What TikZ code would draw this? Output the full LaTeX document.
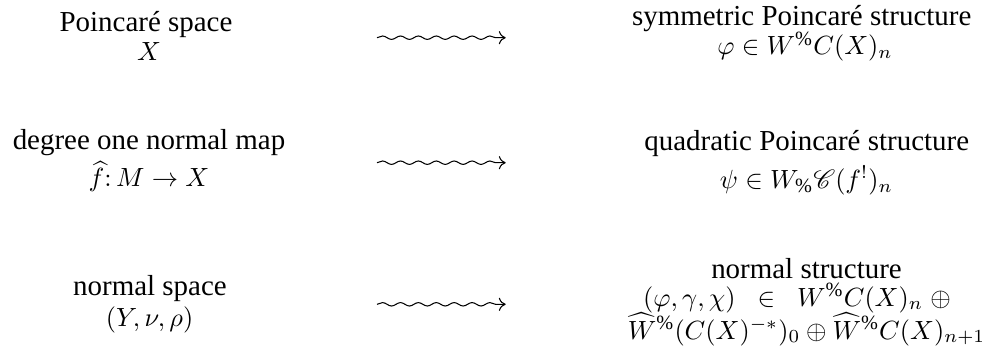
\documentclass[tikz,border=0pt]{standalone}
\usepackage{amsmath,amssymb}
\IfFileExists{mathrsfs.sty}{\usepackage{mathrsfs}}{\newcommand{\mathscr}{\mathcal}}
\usepackage{fontspec}
\setmainfont{Liberation Serif}[Scale=1.1]
\usetikzlibrary{decorations.pathmorphing,arrows.meta}
\begin{document}
\begin{tikzpicture}[x=0.38pt,y=-0.38pt,
  txt/.style={anchor=base,inner sep=0pt,font=\fontsize{10}{12}\selectfont},
  squig/.style={-{To[length=2.6pt,width=5pt]}, decorate,
    decoration={snake,amplitude=0.65pt,segment length=6.8pt,post length=2pt},
    line width=0.4pt}]
\useasboundingbox (0,0) rectangle (995,353);
% left column
\node[txt] (l1a) at (146,31.7) {Poincaré space};
\node[txt] (l1b) at (149,61) {$X$};
\node[txt] (l2a) at (149,149.3) {degree one normal map};
\node[txt] (l2b) at (149,187) {$\widehat{f}\mathpunct{:}M\to X$};
\node[txt] (l3a) at (150,295) {normal space};
\node[txt] (l3b) at (149.7,326.7) {$(Y,\nu,\rho)$};
% right column
\node[txt] (r1a) at (801.7,26) {symmetric Poincaré structure};
\node[txt] (r1b) at (805,55) {$\varphi\in W^{\%}C(X)_n$};
\node[txt] (r2a) at (806.7,151) {quadratic Poincaré structure};
\node[txt] (r2b) at (806.5,188.5) {$\psi\in W_{\%}\mathscr{C}(f^!)_n$};
\node[txt] (r3a) at (806.5,278.5) {normal structure};
\node[txt] (r3b) at (797,306) {$(\varphi,\gamma,\chi)\;\;\in\;\;W^{\%}C(X)_n\;\oplus$};
\node[txt] (r3c) at (806.5,339) {$\widehat{W}^{\%}(C(X)^{-*})_0\oplus\widehat{W}^{\%}C(X)_{n+1}$};
% arrows
\coordinate (s1) at (377,37.7);
\coordinate (e1) at (505.7,37.7);
\coordinate (s2) at (377,162.7);
\coordinate (e2) at (505.7,162.7);
\coordinate (s3) at (377,304.3);
\coordinate (e3) at (505.7,304.3);
\draw[squig] (s1) -- (e1);
\draw[squig] (s2) -- (e2);
\draw[squig] (s3) -- (e3);
\end{tikzpicture}
\end{document}
